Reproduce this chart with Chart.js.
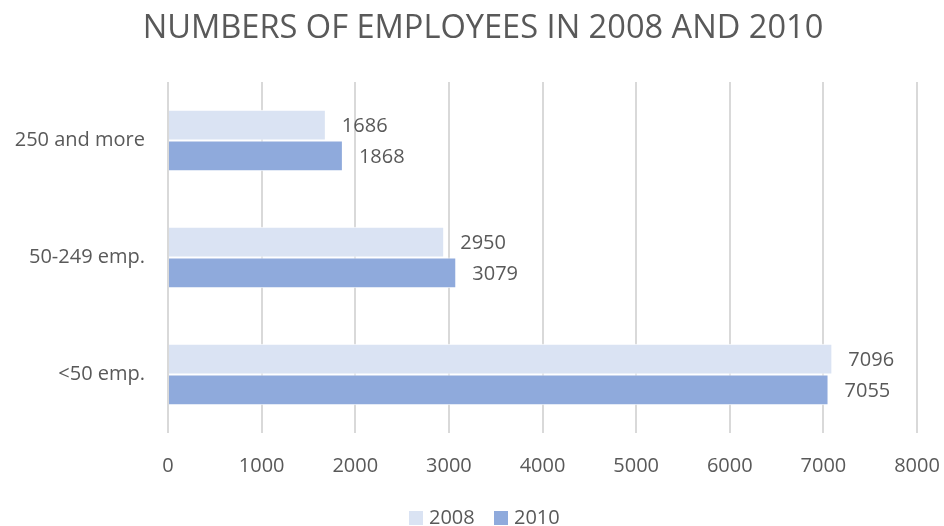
<!DOCTYPE html>
<html lang="en">
<head>
<meta charset="UTF-8">
<title>Numbers of employees</title>
<script src="https://cdn.jsdelivr.net/npm/chart.js"></script>
<style>
    body { margin: 0; background: #fff; }
    #wrap { width: 944px; height: 526px; }
</style>
</head>
<body>
<div id="wrap"><canvas id="chart"></canvas></div>
<script>
    const categories = ['250 and more', '50-249 emp.', '<50 emp.'];
    const values2008 = [1686, 2950, 7096];
    const values2010 = [1868, 3079, 7055];
    const xTicks = [0, 1000, 2000, 3000, 4000, 5000, 6000, 7000, 8000];
    const chartTitle = 'NUMBERS OF EMPLOYEES IN 2008 AND 2010';

    const font = "'Open Sans', 'Liberation Sans', sans-serif";
    const grey = '#595959';

    // value labels, title and legend drawn by hand so they sit like the original
    const extras = {
        id: 'extras',
        afterDatasetsDraw(chart) {
            const ctx = chart.ctx;
            ctx.save();
            ctx.font = '20px ' + font;
            ctx.fillStyle = grey;
            ctx.textBaseline = 'middle';
            chart.data.datasets.forEach((ds, i) => {
                chart.getDatasetMeta(i).data.forEach((bar, j) => {
                    ctx.fillText(ds.data[j], bar.x + 16, bar.y + 1);
                });
            });

            // legend
            const legendX = [409, 494];
            chart.data.datasets.forEach((ds, i) => {
                ctx.fillStyle = ds.backgroundColor;
                ctx.fillRect(legendX[i], 511, 14, 14);
                ctx.fillStyle = grey;
                ctx.fillText(ds.label, legendX[i] + 20, 518);
            });

            // title
            ctx.font = '32.6px ' + font;
            ctx.textAlign = 'center';
            ctx.textBaseline = 'alphabetic';
            ctx.fillText(chartTitle, 483, 38);
            ctx.restore();
        }
    };

    new Chart(document.getElementById('chart'), {
        type: 'bar',
        data: {
            labels: categories,
            datasets: [
                {
                    label: '2008',
                    data: values2008,
                    backgroundColor: '#dae3f3',
                    borderColor: '#ffffff',
                    borderWidth: 1
                },
                {
                    label: '2010',
                    data: values2010,
                    backgroundColor: '#8faadc',
                    borderColor: '#ffffff',
                    borderWidth: 1
                }
            ]
        },
        options: {
            indexAxis: 'y',
            responsive: true,
            maintainAspectRatio: false,
            animation: false,
            layout: { padding: { left: 4, right: 27, top: 82, bottom: 29 } },
            datasets: {
                bar: { categoryPercentage: 0.525, barPercentage: 1.0 }
            },
            scales: {
                x: {
                    min: 0,
                    max: 8000,
                    afterBuildTicks: (axis) => { axis.ticks = xTicks.map(v => ({ value: v })); },
                    afterFit: (axis) => {
                        axis.height = 64;
                        axis.paddingLeft = 0;
                        axis.paddingRight = 0;
                    },
                    grid: { color: '#d9d9d9', lineWidth: 2, drawTicks: false },
                    border: { display: false },
                    ticks: {
                        color: grey,
                        font: { family: font, size: 20 },
                        padding: 21,
                        callback: (v) => String(v)
                    }
                },
                y: {
                    afterFit: (axis) => { axis.width = 164; },
                    grid: { display: false, drawTicks: false },
                    border: { display: false },
                    ticks: { color: grey, font: { family: font, size: 20 }, padding: 23 }
                }
            },
            plugins: {
                title: { display: false },
                legend: { display: false },
                tooltip: { enabled: false }
            }
        },
        plugins: [extras]
    });
</script>
</body>
</html>
